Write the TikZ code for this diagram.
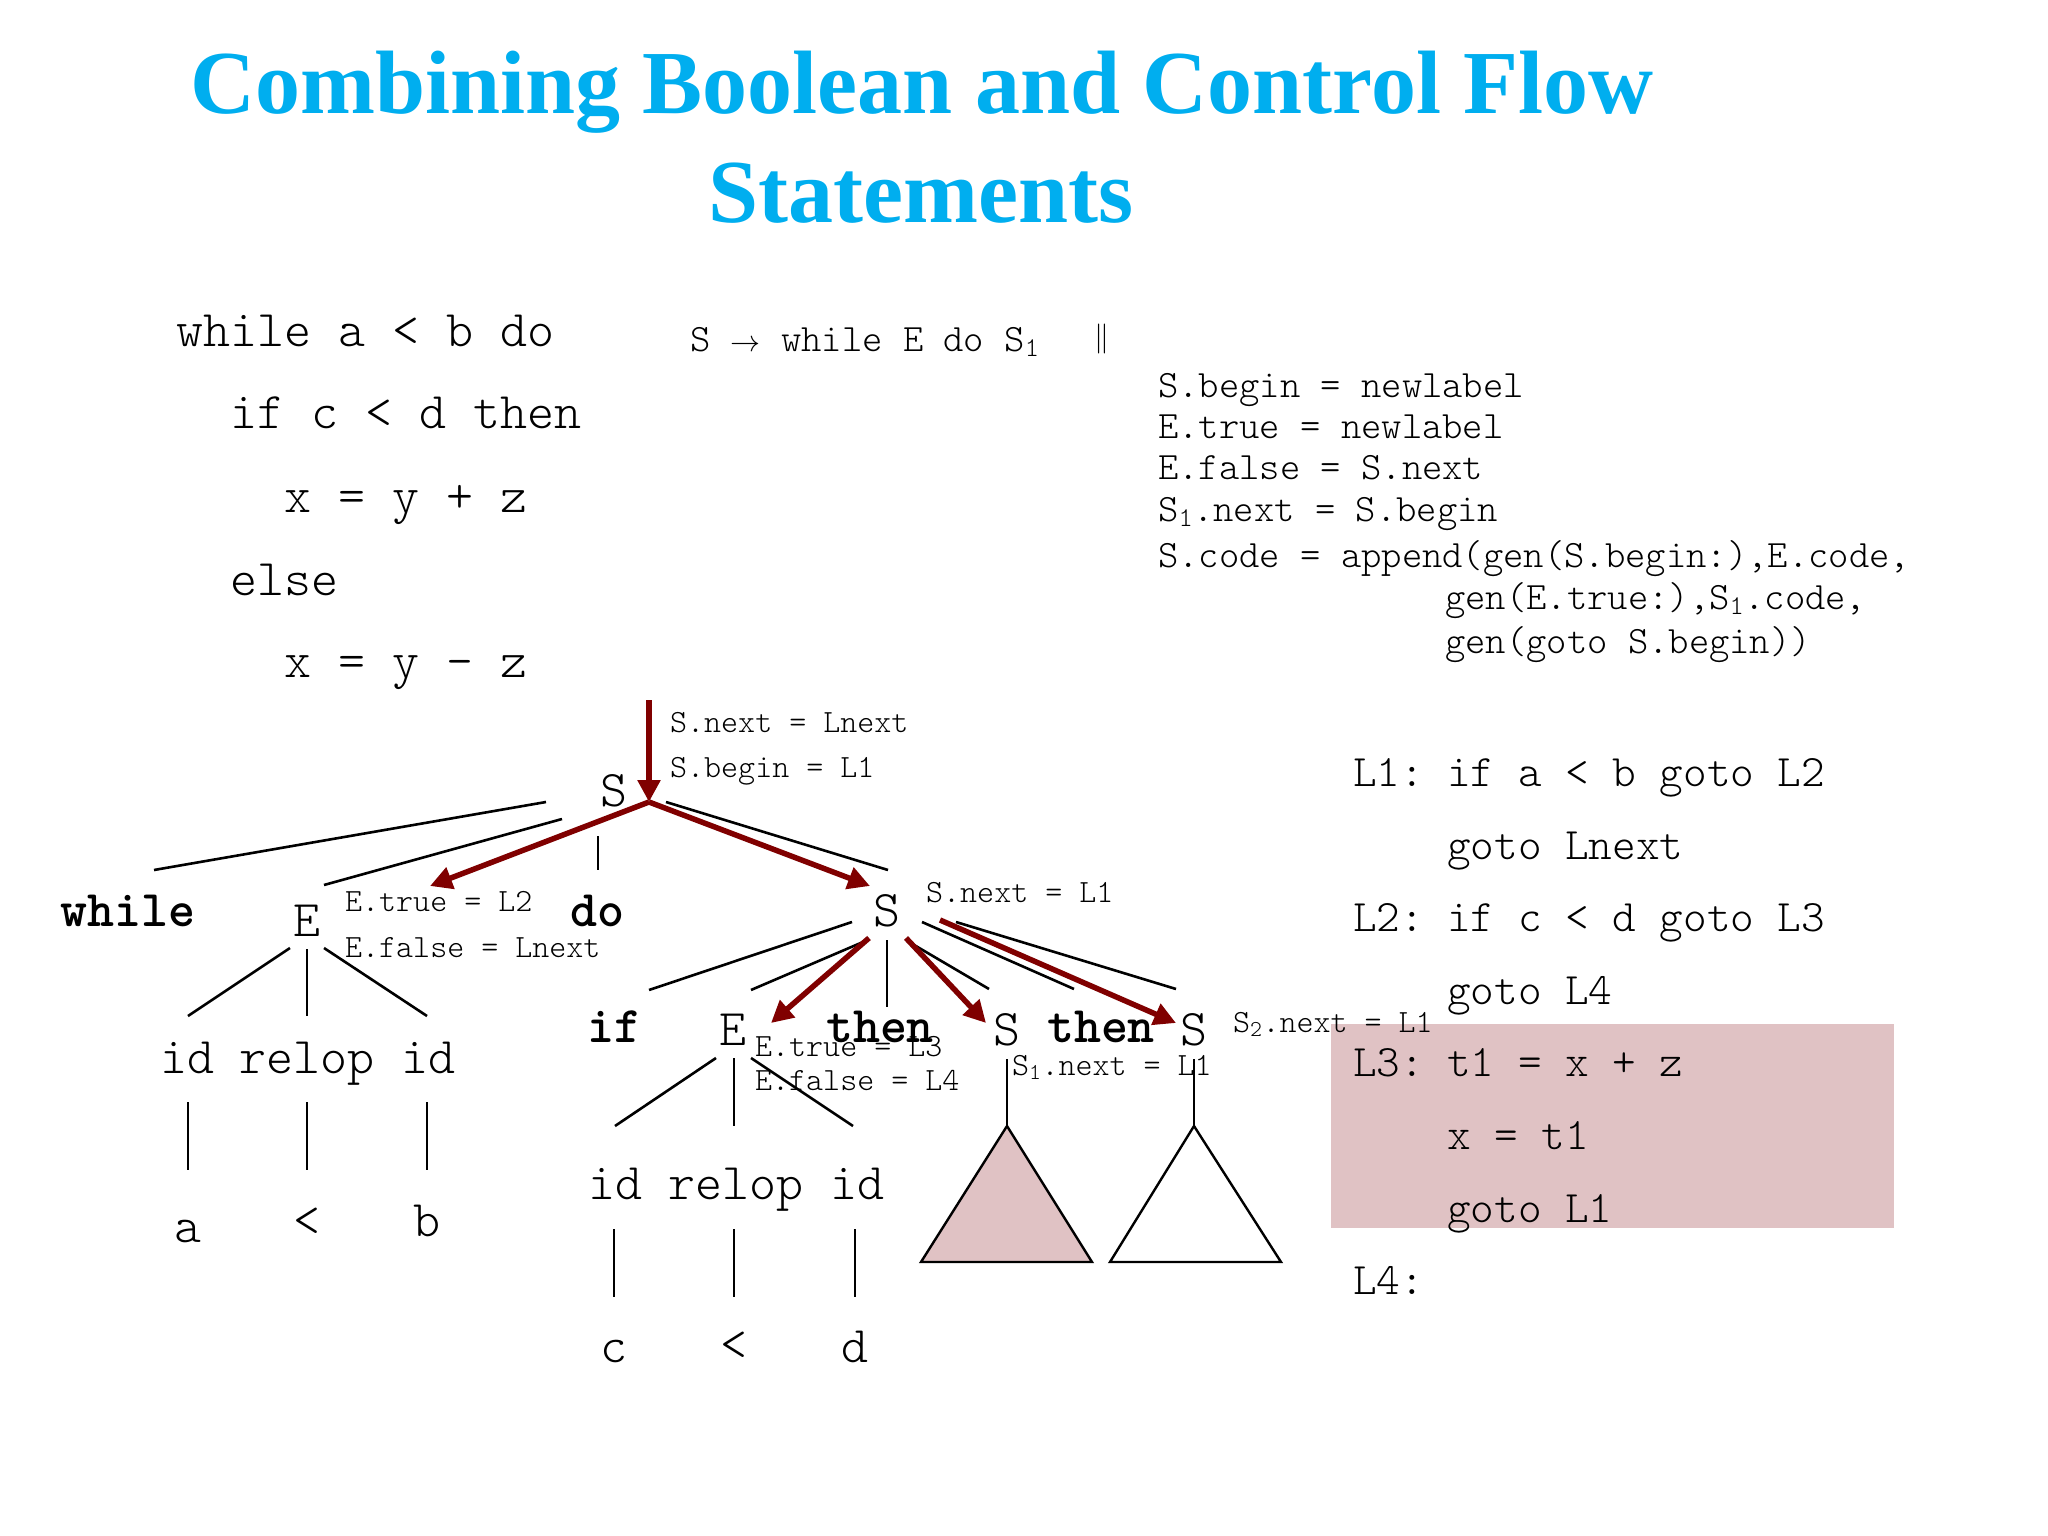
\RequirePackage{fix-cm}
\documentclass[tikz,border=0pt]{standalone}
\usepackage{fontspec}
\setmainfont{Liberation Serif}
\usetikzlibrary{arrows.meta}
\definecolor{titleblue}{RGB}{0,174,239}
\definecolor{pinkfill}{RGB}{224,194,196}
\definecolor{darkred}{RGB}{128,0,0}
\newcommand{\lighttt}{\ttfamily\fontseries{l}\selectfont}
\newcommand{\boldtt}{\ttfamily\fontseries{b}\selectfont}
\newcommand{\prodarrow}{{\fontsize{30}{36}\selectfont$\rightarrow$}}
\begin{document}
\begin{tikzpicture}[x=1pt,y=-1pt,
  titletext/.style={anchor=base,inner sep=0pt,text=titleblue,font=\bfseries\fontsize{90}{100}\selectfont},
  code/.style={anchor=base west,inner sep=0pt,font=\fontsize{51.4}{60}\lighttt},
  rcode/.style={anchor=base west,inner sep=0pt,font=\fontsize{45}{54}\lighttt},
  rule/.style={anchor=base west,inner sep=0pt,font=\fontsize{38.7}{46}\lighttt},
  ann/.style={anchor=base west,inner sep=0pt,font=\fontsize{32.4}{38}\lighttt},
  sym/.style={anchor=base,inner sep=0pt,font=\fontsize{51.4}{60}\lighttt},
  kw/.style={anchor=base,inner sep=0pt,font=\fontsize{51.4}{60}\boldtt},
  edge/.style={line width=2.6pt},
  flow/.style={line width=5.5pt,darkred,-{Triangle[length=22pt,width=22pt]}},
  subtree/.style={line width=2.4pt,line join=miter},
]
\useasboundingbox (0,0) rectangle (2048,1536);
\fill[white] (0,0) rectangle (2048,1536);
% highlighted block
\fill[pinkfill] (1331,1024) rectangle (1894,1228);

% title
\node[titletext] (title1) at (922,114) {Combining Boolean and Control Flow};
\node[titletext] (title2) at (921,222) {Statements};

% source program
\node[code] (src1) at (176,346) {while a < b do};
\node[code] (src2) at (230,428) {if c < d then};
\node[code] (src3) at (284,512) {x = y + z};
\node[code] (src4) at (230,595) {else};
\node[code] (src5) at (284,677) {x = y - z};

% production and semantic rules
\node[rule] (prod) at (690,351) {S \prodarrow{} while E do S\textsubscript{1}};
\node[anchor=base west,inner sep=0pt,font=\fontsize{30}{36}\selectfont] (bars) at (1094,346) {$\|$};
\node[rule] (r1) at (1158,397) {S.begin = newlabel};
\node[rule] (r2) at (1158,438) {E.true = newlabel};
\node[rule] (r3) at (1158,479) {E.false = S.next};
\node[rule] (r4) at (1158,521) {S\textsubscript{1}.next = S.begin};
\node[rule] (r5) at (1158,567) {S.code = append(gen(S.begin:),E.code,};
\node[rule] (r6) at (1445,609) {gen(E.true:),S\textsubscript{1}.code,};
\node[rule] (r7) at (1445,653) {gen(goto S.begin))};

% generated code
\node[rcode] (lab1) at (1353,786) {L1:};
\node[rcode] (ins1) at (1447,786) {if a < b goto L2};
\node[rcode] (ins2) at (1447,859) {goto Lnext};
\node[rcode] (lab2) at (1353,931) {L2:};
\node[rcode] (ins3) at (1447,931) {if c < d goto L3};
\node[rcode] (ins4) at (1447,1004) {goto L4};
\node[rcode] (lab3) at (1353,1076) {L3:};
\node[rcode] (ins5) at (1447,1076) {t1 = x + z};
\node[rcode] (ins6) at (1447,1149) {x = t1};
\node[rcode] (ins7) at (1447,1222) {goto L1};
\node[rcode] (lab4) at (1353,1294) {L4:};

% ---------- parse tree ----------
\node[sym] (S0) at (614,806) {S};
\node[kw] (kwWhile) at (128,926) {while};
\node[sym] (E1) at (307,936) {E};
\node[kw] (kwDo) at (597,926) {do};
\node[sym] (S2) at (887,926) {S};

\node[sym] (idA) at (187,1073) {id};
\node[sym] (relA) at (307,1073) {relop};
\node[sym] (idB) at (428,1073) {id};
\node[sym] (lfA) at (188,1242) {a};
\node[sym] (lfLt1) at (307,1236) {<};
\node[sym] (lfB) at (427,1236) {b};

\node[kw] (kwIf) at (614,1042) {if};
\node[sym] (E2) at (733,1045) {E};
\node[kw] (kwThen1) at (880,1042) {then};
\node[sym] (S1) at (1007,1045) {S};
\node[kw] (kwThen2) at (1101,1042) {then};
\node[sym] (S3) at (1194,1045) {S};

\node[sym] (idC) at (615,1199) {id};
\node[sym] (relC) at (736,1199) {relop};
\node[sym] (idD) at (857,1199) {id};
\node[sym] (lfC) at (614,1362) {c};
\node[sym] (lfLt2) at (734,1360) {<};
\node[sym] (lfD) at (855,1362) {d};

% annotations
\node[ann] (aS0a) at (670,732) {S.next = Lnext};
\node[ann] (aS0b) at (670,777) {S.begin = L1};
\node[ann] (aE1a) at (345,911) {E.true = L2};
\node[ann] (aE1b) at (345,957) {E.false = Lnext};
\node[ann] (aS2) at (926,902) {S.next = L1};
\node[ann] (aE2a) at (755,1056) {E.true = L3};
\node[ann] (aE2b) at (755,1090) {E.false = L4};
\node[ann] (aS1) at (1012,1075) {S\textsubscript{1}.next = L1};
\node[ann] (aS3) at (1233,1032) {S\textsubscript{2}.next = L1};

% connector end points
\coordinate (pS0top) at (649,700);
\coordinate (pS0) at (649,802);
\coordinate (pS0w) at (546,802);  \coordinate (pWhile) at (154,870);
\coordinate (pS0e) at (562,819);  \coordinate (pE1in) at (324,885);
\coordinate (pS0d) at (598,836);  \coordinate (pDo) at (598,870);
\coordinate (pS0s) at (666,802);  \coordinate (pS2in) at (888,870);
\coordinate (pE1tip) at (430,886);
\coordinate (pS2tip) at (870,886);

\coordinate (pE1l) at (290,948);  \coordinate (pIdA) at (188,1016);
\coordinate (pE1m) at (307,949);  \coordinate (pRelA) at (307,1016);
\coordinate (pE1r) at (324,948);  \coordinate (pIdB) at (427,1016);
\coordinate (qIdA) at (188,1102); \coordinate (rIdA) at (188,1170);
\coordinate (qRelA) at (307,1102); \coordinate (rRelA) at (307,1170);
\coordinate (qIdB) at (427,1102); \coordinate (rIdB) at (427,1170);

\coordinate (pS2a) at (852,922);  \coordinate (pIf) at (649,990);
\coordinate (pS2b) at (863,942);  \coordinate (pE2in) at (751,990);
\coordinate (pS2c) at (869,938);  \coordinate (pE2tip) at (771,1023);
\coordinate (pS2d) at (887,940);  \coordinate (pThen1) at (887,1007);
\coordinate (pS2e) at (906,938);  \coordinate (pS1tip) at (986,1023);
\coordinate (pS2f) at (909,942);  \coordinate (pS1in) at (989,989);
\coordinate (pS2g) at (922,922);  \coordinate (pThen2) at (1074,989);
\coordinate (pS2h) at (940,920);  \coordinate (pS3tip) at (1176,1023);
\coordinate (pS2i) at (956,922);  \coordinate (pS3in) at (1176,989);

\coordinate (pE2l) at (716,1058); \coordinate (pIdC) at (615,1126);
\coordinate (pE2m) at (734,1058); \coordinate (pRelC) at (734,1126);
\coordinate (pE2r) at (751,1058); \coordinate (pIdD) at (853,1126);
\coordinate (qIdC) at (614,1229); \coordinate (rIdC) at (614,1297);
\coordinate (qRelC) at (734,1229); \coordinate (rRelC) at (734,1297);
\coordinate (qIdD) at (855,1229); \coordinate (rIdD) at (855,1297);

\coordinate (pS1low) at (1007,1059); \coordinate (apex1) at (1007,1126);
\coordinate (base1l) at (921,1262);  \coordinate (base1r) at (1092,1262);
\coordinate (pS3low) at (1194,1059); \coordinate (apex2) at (1194,1126);
\coordinate (base2l) at (1110,1262); \coordinate (base2r) at (1281,1262);

% black tree edges
\draw[edge] (pS0w) -- (pWhile);
\draw[edge] (pS0e) -- (pE1in);
\draw[edge] (pS0d) -- (pDo);
\draw[edge] (pS0s) -- (pS2in);
\draw[edge] (pE1l) -- (pIdA);
\draw[edge] (pE1m) -- (pRelA);
\draw[edge] (pE1r) -- (pIdB);
\draw[edge] (qIdA) -- (rIdA);
\draw[edge] (qRelA) -- (rRelA);
\draw[edge] (qIdB) -- (rIdB);
\draw[edge] (pS2a) -- (pIf);
\draw[edge] (pS2b) -- (pE2in);
\draw[edge] (pS2d) -- (pThen1);
\draw[edge] (pS2f) -- (pS1in);
\draw[edge] (pS2g) -- (pThen2);
\draw[edge] (pS2i) -- (pS3in);
\draw[edge] (pE2l) -- (pIdC);
\draw[edge] (pE2m) -- (pRelC);
\draw[edge] (pE2r) -- (pIdD);
\draw[edge] (qIdC) -- (rIdC);
\draw[edge] (qRelC) -- (rRelC);
\draw[edge] (qIdD) -- (rIdD);
\draw[edge] (pS1low) -- (apex1);
\draw[edge] (pS3low) -- (apex2);
\filldraw[subtree,fill=pinkfill] (apex1) -- (base1l) -- (base1r) -- cycle;
\filldraw[subtree,fill=white] (apex2) -- (base2l) -- (base2r) -- cycle;

% red flow arrows
\draw[flow] (pS0top) -- (pS0);
\draw[flow] (pS0) -- (pE1tip);
\draw[flow] (pS0) -- (pS2tip);
\draw[flow] (pS2c) -- (pE2tip);
\draw[flow] (pS2e) -- (pS1tip);
\draw[flow] (pS2h) -- (pS3tip);
\end{tikzpicture}
\end{document}
